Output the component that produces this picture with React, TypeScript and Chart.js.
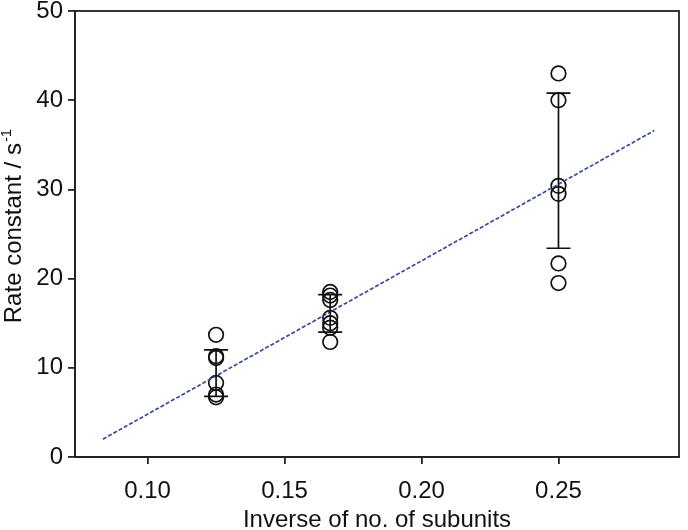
import React, { useEffect, useRef } from "react";
import { Chart, registerables } from "chart.js";

Chart.register(...registerables);

// x positions of the groups (inverse of number of subunits)
const groupX = [0.125, 1 / 6, 0.25];
// individual measurements per group
const rates0125 = [13.7, 11.3, 11.1, 8.3, 7.0, 6.7];
const rates0167 = [18.5, 18.1, 17.6, 15.6, 15.0, 14.5, 12.9];
const rates025 = [43.0, 40.0, 30.4, 29.5, 21.7, 19.5];
// error bars (low / high) per group
const errLow = [6.8, 14.0, 23.4];
const errHigh = [12.0, 18.2, 40.8];
// regression line endpoints
const fitX = [0.0837, 0.285];
const fitY = [2.0, 36.6];
// axis ticks
const xTicks = [0.1, 0.15, 0.2, 0.25];
const yTicks = [0, 10, 20, 30, 40, 50];
// axis titles
const xTitle = "Inverse of no. of subunits";
const yTitleMain = "Rate constant / s";
const yTitleSup = "-1";

const FONT = "'Liberation Sans', Arial, sans-serif";

export default function App() {
  const ref = useRef<HTMLCanvasElement | null>(null);

  useEffect(() => {
    document.body.style.margin = "0";
    const canvas = ref.current;
    if (!canvas) return;

    const groups = [rates0125, rates0167, rates025];
    const points: { x: number; y: number }[] = [];
    groups.forEach((arr, i) => arr.forEach((v) => points.push({ x: groupX[i], y: v })));

    const frame = {
      id: "frame",
      afterDraw(chart: any) {
        const { ctx, chartArea } = chart;
        ctx.save();
        ctx.strokeStyle = "#222";
        ctx.lineWidth = 1.8;
        ctx.strokeRect(chartArea.left, chartArea.top, chartArea.right - chartArea.left, chartArea.bottom - chartArea.top);
        ctx.restore();
      },
    };

    const yTitle = {
      id: "yTitle",
      afterDraw(chart: any) {
        const { ctx, chartArea } = chart;
        ctx.save();
        const mainFont = `24px ${FONT}`;
        const supFont = `15px ${FONT}`;
        ctx.font = mainFont;
        const wMain = ctx.measureText(yTitleMain).width;
        ctx.font = supFont;
        const wSup = ctx.measureText(yTitleSup).width;
        const total = wMain + wSup + 1;
        const cy = (chartArea.top + chartArea.bottom) / 2 - 8;
        ctx.translate(21, cy);
        ctx.rotate(-Math.PI / 2);
        ctx.fillStyle = "#111";
        ctx.textBaseline = "alphabetic";
        ctx.textAlign = "left";
        ctx.font = mainFont;
        ctx.fillText(yTitleMain, -total / 2, 0);
        ctx.font = supFont;
        ctx.fillText(yTitleSup, -total / 2 + wMain + 1, -10);
        ctx.restore();
      },
    };

    const errorBars = {
      id: "errorBars",
      afterDatasetsDraw(chart: any) {
        const { ctx } = chart;
        const xs = chart.scales.x;
        const ys = chart.scales.y;
        ctx.save();
        ctx.strokeStyle = "#111";
        ctx.lineWidth = 1.7;
        groupX.forEach((gx, i) => {
          const px = xs.getPixelForValue(gx);
          const pl = ys.getPixelForValue(errLow[i]);
          const ph = ys.getPixelForValue(errHigh[i]);
          ctx.beginPath();
          ctx.moveTo(px, pl);
          ctx.lineTo(px, ph);
          ctx.moveTo(px - 12, pl);
          ctx.lineTo(px + 12, pl);
          ctx.moveTo(px - 12, ph);
          ctx.lineTo(px + 12, ph);
          ctx.stroke();
        });
        ctx.restore();
      },
    };

    const chart = new Chart(canvas, {
      type: "scatter",
      data: {
        datasets: [
          {
            type: "line",
            data: fitX.map((x, i) => ({ x, y: fitY[i] })),
            borderColor: "#3a4a9a",
            borderWidth: 1.7,
            borderDash: [4, 2],
            pointRadius: 0,
            fill: false,
          } as any,
          {
            data: points,
            pointStyle: "circle",
            pointRadius: 7.3,
            pointHoverRadius: 7.3,
            borderColor: "#111",
            borderWidth: 1.7,
            backgroundColor: "rgba(0,0,0,0)",
          },
        ],
      },
      options: {
        animation: false,
        responsive: false,
        maintainAspectRatio: false,
        layout: { padding: { top: 11, right: 4, left: 0, bottom: 0 } },
        plugins: { legend: { display: false }, tooltip: { enabled: false } },
        scales: {
          x: {
            type: "linear",
            min: 0.0735,
            max: 0.294,
            afterBuildTicks: (s: any) => {
              s.ticks = xTicks.map((v) => ({ value: v }));
            },
            afterFit: (s: any) => {
              s.height = 73;
              s.paddingLeft = 0;
              s.paddingRight = 0;
            },
            ticks: {
              color: "#111",
              font: { family: FONT, size: 24 },
              padding: 13,
              callback: (v: any) => Number(v).toFixed(2),
              maxRotation: 0,
            },
            grid: { display: true, drawOnChartArea: false, drawTicks: true, tickLength: 7, color: "#222", lineWidth: 1.8 },
            border: { display: true, color: "#222", width: 1.8 },
            title: {
              display: true,
              text: xTitle,
              color: "#111",
              font: { family: FONT, size: 24 },
              padding: { top: 0, bottom: -5 },
            },
          },
          y: {
            type: "linear",
            min: 0,
            max: 50,
            afterBuildTicks: (s: any) => {
              s.ticks = yTicks.map((v) => ({ value: v }));
            },
            afterFit: (s: any) => {
              s.width = 75;
              s.paddingTop = 0;
              s.paddingBottom = 0;
            },
            ticks: {
              color: "#111",
              font: { family: FONT, size: 24 },
              padding: 5,
            },
            grid: { display: true, drawOnChartArea: false, drawTicks: true, tickLength: 7, color: "#222", lineWidth: 1.8 },
            border: { display: true, color: "#222", width: 1.8 },
            title: { display: false },
          },
        },
      },
      plugins: [frame, errorBars, yTitle],
    });

    return () => chart.destroy();
  }, []);

  return (
    <div style={{ position: "absolute", left: 0, top: 0, width: 688, height: 530, background: "#fff" }}>
      <canvas ref={ref} width={688} height={530} style={{ display: "block", width: 688, height: 530 }} />
    </div>
  );
}
